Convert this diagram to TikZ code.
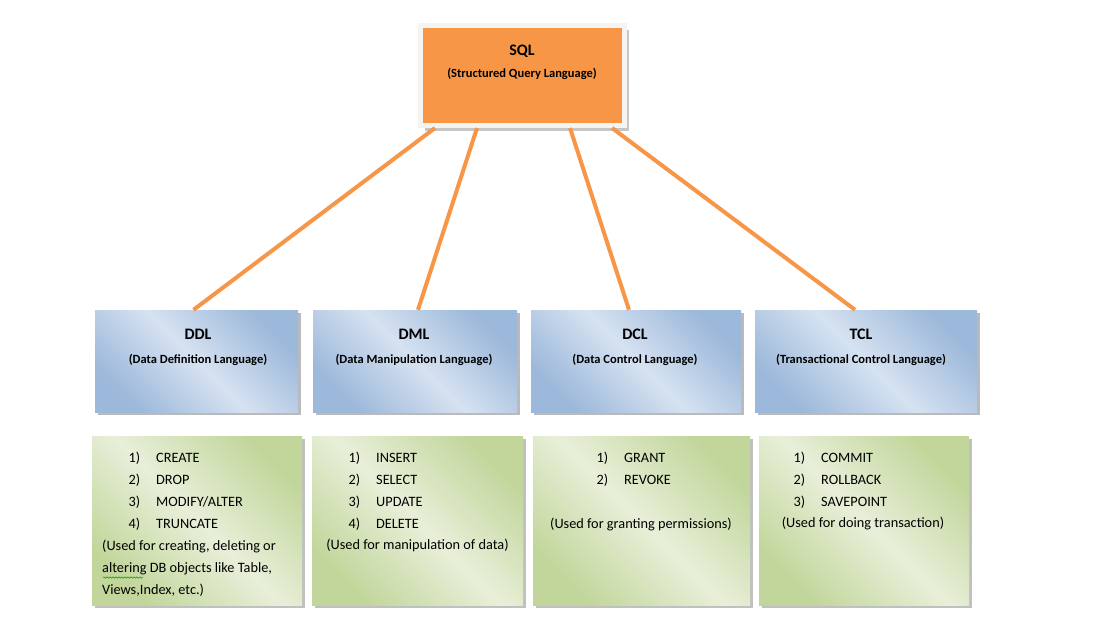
\documentclass[tikz,border=0pt]{standalone}
\usepackage{fontspec}
\setmainfont{Carlito}
\usetikzlibrary{shadows,decorations.pathmorphing}
\definecolor{sqlorange}{HTML}{F79646}
\definecolor{sqlframe}{HTML}{F6F3F0}
\definecolor{blueA}{HTML}{9CB8DA}
\definecolor{blueB}{HTML}{D6E2F1}
\definecolor{greenA}{HTML}{C2D69B}
\definecolor{greenB}{HTML}{E8EFD9}
\newcommand{\hd}[2]{\begin{tabular}[t]{@{}c@{}}#1\\{\fontsize{12.5}{15}\selectfont #2}\end{tabular}}
\newcommand{\itm}[2]{\makebox[12pt][r]{#1}\hspace{16pt}#2}
\tikzset{
  sqlbox/.style={rectangle,fill=sqlorange,draw=sqlframe,line width=5pt,minimum width=204pt,minimum height=100.5pt,
    drop shadow={shadow xshift=4pt,shadow yshift=-5pt,fill=black!50,opacity=.45}},
  langbox/.style={rectangle,top color=blueA,bottom color=blueA,middle color=blueB,shading angle=-45,
    minimum height=102pt,inner sep=0pt,drop shadow={shadow xshift=2.5pt,shadow yshift=-3pt,fill=black!60,opacity=.45}},
  cmdbox/.style={rectangle,top color=greenA,bottom color=greenA,middle color=greenB,shading angle=-45,
    minimum height=169pt,inner sep=0pt,drop shadow={shadow xshift=2.5pt,shadow yshift=-3pt,fill=black!55,opacity=.45}},
  sqltext/.style={font=\bfseries\fontsize{16}{22}\selectfont,anchor=base,inner sep=0pt},
  headtext/.style={font=\bfseries\fontsize{16}{24}\selectfont,anchor=base,inner sep=0pt},
  listtext/.style={font=\fontsize{14.3}{22}\selectfont,anchor=base west,inner sep=0pt},
  notetext/.style={font=\fontsize{14.3}{22}\selectfont,anchor=base,inner sep=0pt},
  link/.style={draw=sqlorange,line width=4pt}
}

\begin{document}
\begin{tikzpicture}[x=1pt,y=-1pt]
\useasboundingbox (0,0) rectangle (1111,633);

\node[sqlbox] (sql) at (522.5,75.25) {};
\node[sqltext] (sqltxt) at (522,55) {\hd{SQL}{(Structured Query Language)}};

\node[langbox,minimum width=203pt] (ddl) at (196.5,361) {};
\node[langbox,minimum width=204pt] (dml) at (415,361) {};
\node[langbox,minimum width=210pt] (dcl) at (636,361) {};
\node[langbox,minimum width=222pt] (tcl) at (866,361) {};

\node[headtext] (ddltxt) at (198,339) {\hd{DDL}{(Data Definition Language)}};
\node[headtext] (dmltxt) at (414,339) {\hd{DML}{(Data Manipulation Language)}};
\node[headtext] (dcltxt) at (635,339) {\hd{DCL}{(Data Control Language)}};
\node[headtext] (tcltxt) at (861,339) {\hd{TCL}{(Transactional Control Language)}};

\node[cmdbox,minimum width=210pt] (ddlcmd) at (197,520.5) {};
\node[cmdbox,minimum width=211pt] (dmlcmd) at (417.5,520.5) {};
\node[cmdbox,minimum width=217pt] (dclcmd) at (641.5,520.5) {};
\node[cmdbox,minimum width=210pt] (tclcmd) at (864,520.5) {};

\node[listtext] (ddllst) at (128,462) {\begin{tabular}[t]{@{}l@{}}\itm{1)}{CREATE}\\\itm{2)}{DROP}\\\itm{3)}{MODIFY/ALTER}\\\itm{4)}{TRUNCATE}\end{tabular}};
\node[listtext] (ddlnote) at (102,550) {\begin{tabular}[t]{@{}l@{}}(Used for creating, deleting or\\altering DB objects like Table,\\Views,Index, etc.)\end{tabular}};
\draw[green!60!black,line width=.5pt,decorate,decoration={snake,amplitude=.7pt,segment length=3pt}] (103,577.5) -- (143,577.5);

\node[listtext] (dmllst) at (348,462) {\begin{tabular}[t]{@{}l@{}}\itm{1)}{INSERT}\\\itm{2)}{SELECT}\\\itm{3)}{UPDATE}\\\itm{4)}{DELETE}\end{tabular}};
\node[notetext] (dmlnote) at (417.5,549) {(Used for manipulation of data)};

\node[listtext] (dcllst) at (596,462) {\begin{tabular}[t]{@{}l@{}}\itm{1)}{GRANT}\\\itm{2)}{REVOKE}\end{tabular}};
\node[notetext] (dclnote) at (641,528) {(Used for granting permissions)};

\node[listtext] (tcllst) at (793,462) {\begin{tabular}[t]{@{}l@{}}\itm{1)}{COMMIT}\\\itm{2)}{ROLLBACK}\\\itm{3)}{SAVEPOINT}\end{tabular}};
\node[notetext] (tclnote) at (863,527) {(Used for doing transaction)};

\draw[link] ([xshift=-87.5pt]sql.south) -- ([xshift=-3pt]ddl.north);
\draw[link] ([xshift=-45.5pt]sql.south) -- ([xshift=3pt]dml.north);
\draw[link] ([xshift=47.5pt]sql.south) -- ([xshift=-7pt]dcl.north);
\draw[link] ([xshift=89.5pt]sql.south) -- ([xshift=-11pt]tcl.north);
\end{tikzpicture}
\end{document}
